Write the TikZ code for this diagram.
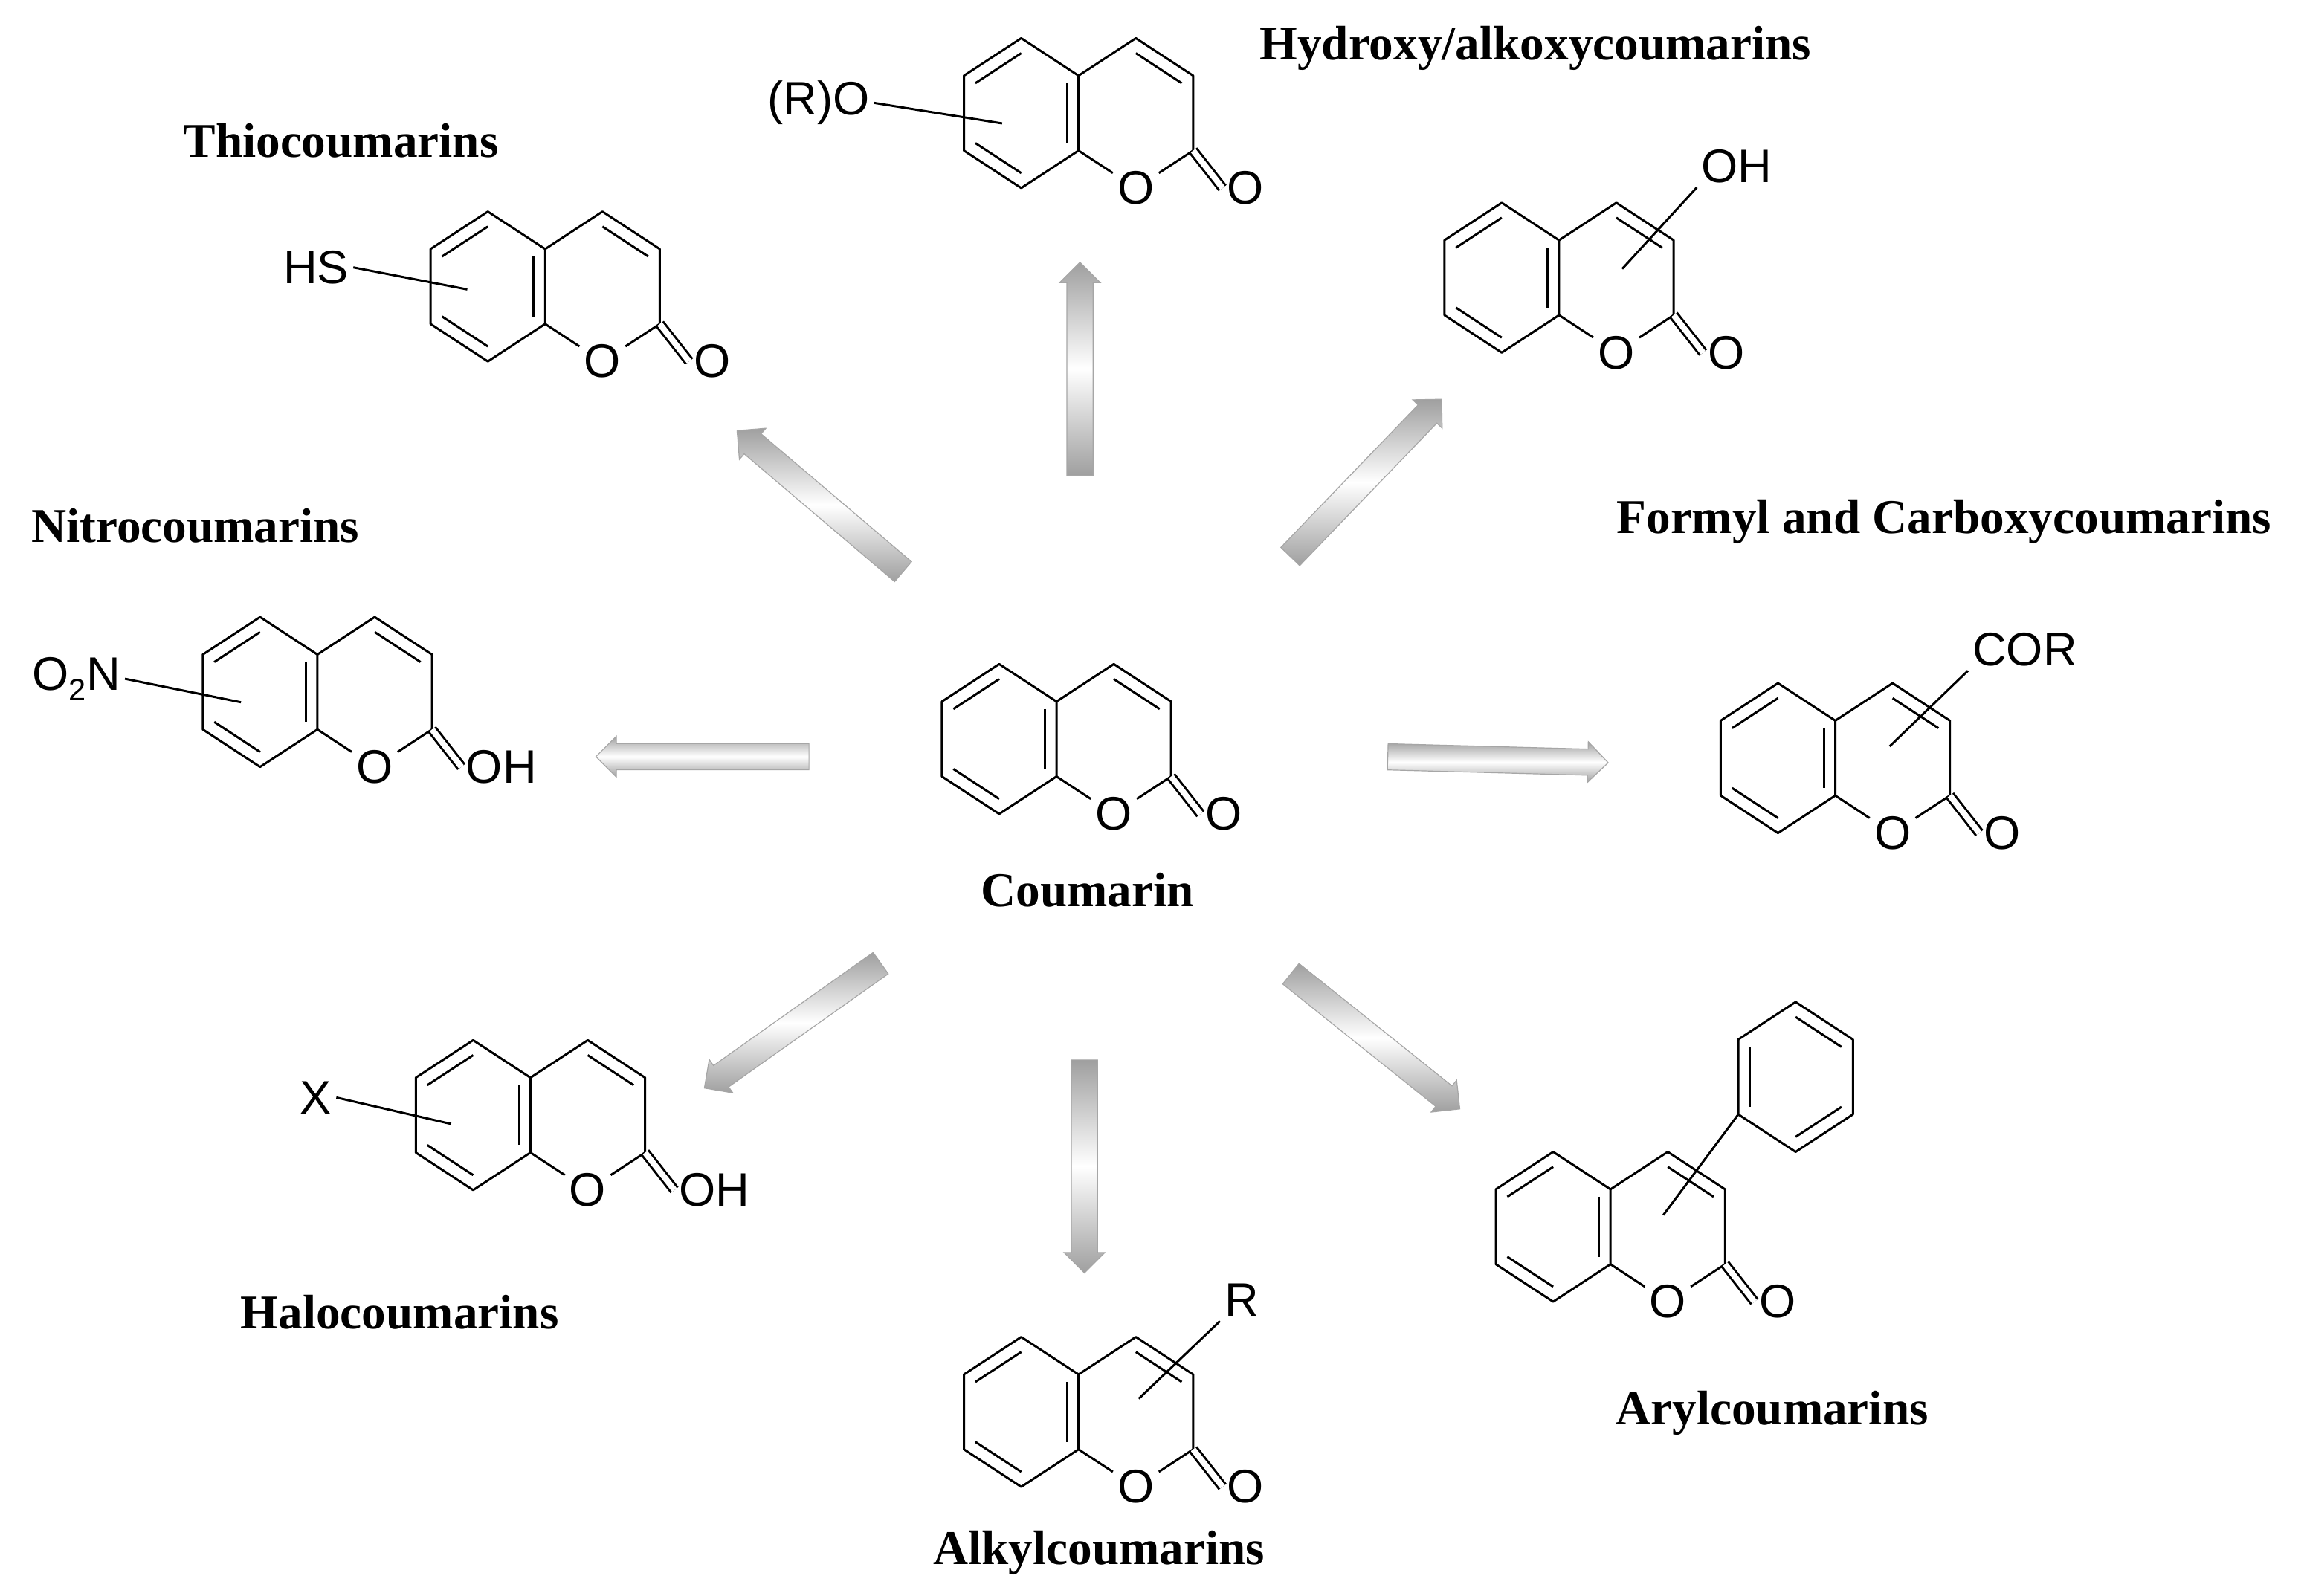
\documentclass[tikz,border=0pt]{standalone}
\usepackage{fontspec}
\setmainfont{Liberation Serif}
\newfontfamily\atomfont{Liberation Sans}
\usetikzlibrary{calc,shapes.arrows}
\tikzset{
 bond/.style={line width=1.5pt,black},
 dbond/.style={line width=1.5pt,double=white,double distance=4pt,draw=black},
 atom/.style={font=\atomfont\fontsize{32}{34}\selectfont,inner sep=3pt},
 lbl/.style={font=\bfseries\fontsize{33}{36}\selectfont},
 fatarr/.style={single arrow,single arrow head extend=5pt,single arrow tip angle=90,
   inner xsep=0pt,inner ysep=6pt,minimum width=22pt,draw=gray!70,line width=0.6pt,
   top color=gray!75,bottom color=gray!75,middle color=white,shape border uses incircle}
}
\newcommand\fatarrow[2]{\path let \p1=($(#2)-(#1)$), \n1={veclen(\x1,\y1)}, \n2={atan2(\y1,\x1)} in node[fatarr, minimum height=\n1, rotate=\n2] at ($(#1)!0.5!(#2)$) {};}
\newcommand\inner[3]{\draw[bond] ($(#1)!0.8!(#2)$) -- ($(#1)!0.8!(#3)$);}
\newcommand\benz[3]{% name x y
 \begin{scope}[shift={(#2,#3)}]
 \coordinate (#1c) at (0,0);
 \coordinate (#1a1) at (0,-51); \coordinate (#1a2) at (39,-25.5);
 \coordinate (#1a3) at (39,25.5); \coordinate (#1a4) at (0,51);
 \coordinate (#1a5) at (-39,25.5); \coordinate (#1a6) at (-39,-25.5);
 \end{scope}
 \draw[bond,line join=round] (#1a1)--(#1a2)--(#1a3)--(#1a4)--(#1a5)--(#1a6)--cycle;}
\newcommand\coum[4]{% name x y exo
 \benz{#1}{#2}{#3}
 \inner{#1c}{#1a6}{#1a1}\inner{#1c}{#1a4}{#1a5}\inner{#1c}{#1a2}{#1a3}
 \begin{scope}[shift={(#2,#3)}]
 \coordinate (#1r) at (78,0);
 \coordinate (#1C4) at (78,-51); \coordinate (#1C3) at (117,-25.5);
 \coordinate (#1C2) at (117,25.5);
 \node[atom] (#1O) at (78,51) {O};
 \node[atom,anchor=west] (#1X) at (137,51) {#4};
 \end{scope}
 \draw[bond,line join=round] (#1a2)--(#1C4)--(#1C3)--(#1C2)--(#1O)--(#1a3);
 \inner{#1r}{#1C4}{#1C3}
 \draw[dbond] (#1C2) -- (#1X.west);}
\begin{document}
\begin{tikzpicture}[x=1pt,y=-1pt]
\useasboundingbox[fill=white] (0,0) rectangle (1568,1086);
% central
\coum{m}{680}{503}{O}
\node[lbl] (lm) at (740,606) {Coumarin};
% top: hydroxy/alkoxy
\coum{h}{695}{77}{O}
\node[atom] (hs) at (557,70) {(R)O};
\draw[bond] (hs.east) -- (682,84);
\node[lbl] (lh) at (1045,33) {Hydroxy/alkoxycoumarins};
% thio
\coum{t}{332}{195}{O}
\node[atom] (ts) at (215,182) {HS};
\draw[bond] (ts.east) -- (318,197);
\node[lbl] (lt) at (232,96) {Thiocoumarins};
% 4-hydroxy
\coum{o}{1022}{189}{O}
\node[atom] (os) at (1182,113) {OH};
\draw[bond] (os.south west) -- (1104,183);
% nitro
\coum{n}{177}{471}{OH}
\node[atom] (ns) at (52,462) {O{\fontsize{21}{21}\selectfont\raisebox{-7pt}{2}}N};
\draw[bond] (ns.east) -- (164,478);
\node[lbl] (ln) at (133,358) {Nitrocoumarins};
% formyl
\coum{f}{1210}{516}{O}
\node[atom] (fs) at (1378,442) {COR};
\draw[bond] (fs.south west) -- (1286,508);
\node[lbl] (lf) at (1323,355) {Formyl and Carboxycoumarins};
% halo
\coum{x}{322}{759}{OH}
\node[atom] (xs) at (215,747) {X};
\draw[bond] (xs.east) -- (307,765);
\node[lbl] (lx) at (272,893) {Halocoumarins};
% alkyl
\coum{a}{695}{961}{O}
\node[atom] (as) at (845,885) {R};
\draw[bond] (as.south west) -- (775,952);
\node[lbl] (la) at (748,1057) {Alkylcoumarins};
% aryl
\coum{r}{1057}{835}{O}
\benz{p}{1222}{733}
\inner{pc}{pa1}{pa2}\inner{pc}{pa3}{pa4}\inner{pc}{pa5}{pa6}
\draw[bond] (pa5) -- (1132,827);
\node[lbl] (lr) at (1206,962) {Arylcoumarins};
% arrows
\coordinate (t1) at (735,328); \coordinate (h1) at (735,183);
\coordinate (t2) at (618,392); \coordinate (h2) at (505,296);
\coordinate (t3) at (875,382); \coordinate (h3) at (978,275);
\coordinate (t4) at (555,515); \coordinate (h4) at (410,515);
\coordinate (t5) at (940,515); \coordinate (h5) at (1090,519);
\coordinate (t6) at (603,653); \coordinate (h6) at (483,738);
\coordinate (t7) at (738,717); \coordinate (h7) at (738,862);
\coordinate (t8) at (875,660); \coordinate (h8) at (990,752);
\fatarrow{t1}{h1}\fatarrow{t2}{h2}\fatarrow{t3}{h3}\fatarrow{t4}{h4}
\fatarrow{t5}{h5}\fatarrow{t6}{h6}\fatarrow{t7}{h7}\fatarrow{t8}{h8}
\end{tikzpicture}
\end{document}
